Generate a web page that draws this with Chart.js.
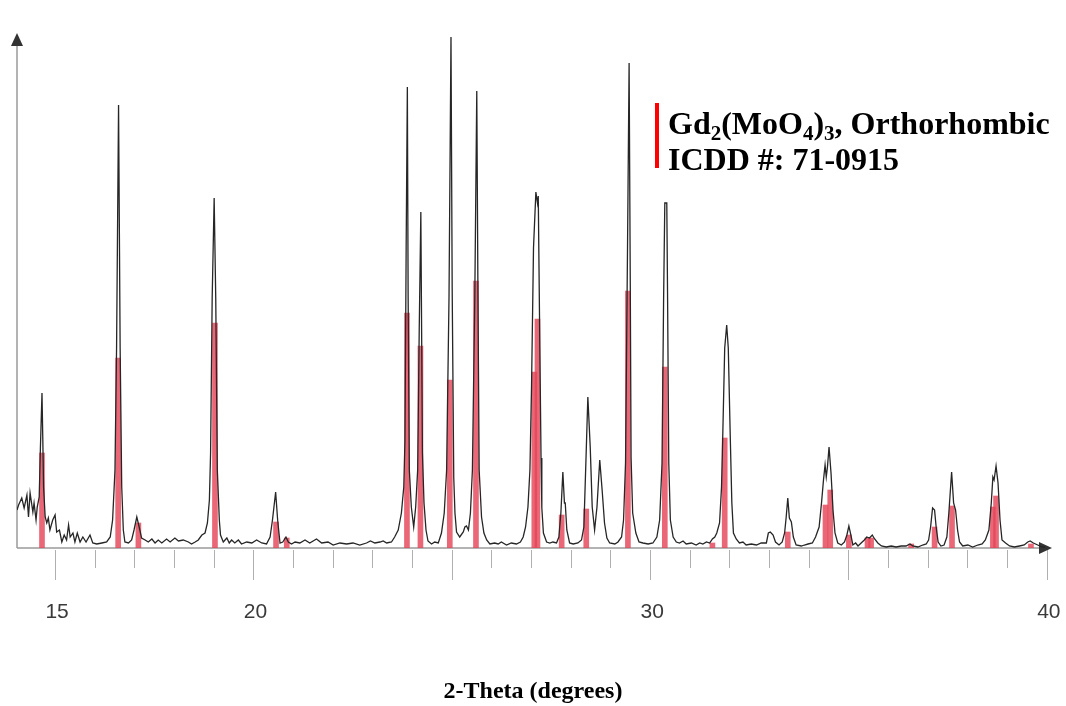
<!DOCTYPE html>
<html>
<head>
<meta charset="utf-8">
<script src="https://cdn.jsdelivr.net/npm/chart.js@4.4.1/dist/chart.umd.min.js"></script>
<style>
    html, body { margin: 0; padding: 0; background: #fff; }
    #wrap { width: 1066px; height: 706px; position: relative; }
</style>
</head>
<body>
<div id="wrap"><canvas id="xrdChart" width="1066" height="706"></canvas></div>
<script>
// Measured pattern: 2-theta (deg) and intensity (a.u.)
const twoTheta = [
    14.04, 14.08, 14.16, 14.22, 14.29, 14.33, 14.37, 14.44, 14.47, 14.52, 14.55, 14.60, 14.63, 14.67, 14.69, 14.71,
    14.75, 14.79, 14.83, 14.87, 14.94, 15.00, 15.04, 15.11, 15.17, 15.23, 15.29, 15.34, 15.38, 15.45, 15.50, 15.56,
    15.63, 15.70, 15.78, 15.88, 15.95, 16.05, 16.18, 16.30, 16.39, 16.45, 16.51, 16.55, 16.60, 16.64, 16.68, 16.72,
    16.76, 16.85, 16.93, 16.99, 17.06, 17.12, 17.18, 17.27, 17.35, 17.44, 17.52, 17.60, 17.69, 17.81, 17.90, 18.02,
    18.11, 18.23, 18.36, 18.44, 18.53, 18.61, 18.70, 18.78, 18.84, 18.89, 18.92, 18.96, 19.01, 19.05, 19.09, 19.14,
    19.17, 19.24, 19.33, 19.39, 19.45, 19.53, 19.62, 19.70, 19.83, 19.96, 20.08, 20.21, 20.33, 20.42, 20.48, 20.56,
    20.61, 20.67, 20.74, 20.82, 20.88, 20.96, 21.05, 21.17, 21.30, 21.42, 21.59, 21.72, 21.88, 22.01, 22.18, 22.35,
    22.51, 22.68, 22.85, 22.95, 23.06, 23.19, 23.27, 23.36, 23.48, 23.56, 23.65, 23.73, 23.79, 23.82, 23.85, 23.88,
    23.90, 23.93, 23.98, 24.04, 24.09, 24.14, 24.18, 24.22, 24.26, 24.30, 24.35, 24.40, 24.49, 24.57, 24.66, 24.74,
    24.81, 24.87, 24.93, 24.98, 25.01, 25.05, 25.08, 25.12, 25.20, 25.29, 25.33, 25.37, 25.42, 25.47, 25.52, 25.58,
    25.63, 25.66, 25.69, 25.75, 25.81, 25.88, 25.96, 26.08, 26.17, 26.25, 26.38, 26.50, 26.63, 26.73, 26.80, 26.86,
    26.92, 26.97, 27.01, 27.06, 27.12, 27.16, 27.18, 27.22, 27.25, 27.27, 27.31, 27.39, 27.47, 27.55, 27.64, 27.70,
    27.75, 27.80, 27.84, 27.86, 27.90, 27.97, 28.06, 28.18, 28.27, 28.33, 28.38, 28.43, 28.49, 28.54, 28.60, 28.66,
    28.73, 28.79, 28.85, 28.91, 28.98, 29.11, 29.19, 29.28, 29.33, 29.38, 29.43, 29.47, 29.50, 29.52, 29.56, 29.64,
    29.72, 29.82, 29.95, 30.07, 30.17, 30.24, 30.30, 30.34, 30.37, 30.42, 30.44, 30.47, 30.51, 30.58, 30.66, 30.74,
    30.83, 30.91, 31.04, 31.16, 31.25, 31.33, 31.42, 31.50, 31.57, 31.63, 31.68, 31.75, 31.80, 31.83, 31.88, 31.93,
    31.97, 32.02, 32.06, 32.10, 32.17, 32.25, 32.34, 32.42, 32.55, 32.68, 32.80, 32.93, 32.98, 33.03, 33.10, 33.16,
    33.25, 33.33, 33.39, 33.43, 33.47, 33.51, 33.56, 33.61, 33.68, 33.81, 33.89, 33.98, 34.09, 34.17, 34.26, 34.32,
    34.37, 34.41, 34.44, 34.47, 34.51, 34.56, 34.61, 34.66, 34.73, 34.82, 34.90, 34.96, 35.01, 35.06, 35.11, 35.18,
    35.24, 35.32, 35.40, 35.46, 35.53, 35.60, 35.66, 35.74, 35.83, 35.95, 36.08, 36.20, 36.33, 36.45, 36.55, 36.62,
    36.75, 36.87, 36.96, 37.02, 37.07, 37.12, 37.17, 37.21, 37.26, 37.33, 37.41, 37.48, 37.53, 37.60, 37.65, 37.70,
    37.75, 37.80, 37.88, 38.01, 38.13, 38.26, 38.37, 38.45, 38.54, 38.60, 38.64, 38.67, 38.72, 38.77, 38.82, 38.87,
    38.96, 39.06, 39.18, 39.31, 39.43, 39.52, 39.58, 39.66, 39.77, 39.88, 39.96
];
const intensity = [
    38, 43, 50, 40, 53, 31, 55, 36, 45, 28, 41, 51, 100, 155, 110, 61,
    31, 25, 30, 18, 28, 33, 16, 18, 6, 13, 8, 23, 11, 15, 6, 15,
    6, 11, 6, 13, 5, 4, 5, 6, 11, 28, 78, 200, 443, 200, 61, 18,
    6, 5, 8, 18, 31, 21, 10, 8, 6, 9, 5, 8, 5, 9, 6, 10,
    7, 8, 6, 4, 6, 8, 13, 15, 25, 48, 95, 250, 350, 250, 78, 28,
    13, 6, 10, 5, 8, 5, 8, 4, 6, 5, 8, 5, 4, 11, 28, 56,
    28, 5, 6, 11, 6, 4, 6, 5, 8, 5, 9, 5, 6, 3, 5, 4,
    5, 3, 5, 7, 5, 6, 7, 5, 6, 11, 18, 35, 61, 108, 300, 461,
    250, 78, 41, 21, 41, 78, 220, 336, 95, 45, 18, 7, 4, 6, 5, 15,
    35, 78, 250, 511, 260, 70, 35, 16, 11, 16, 21, 22, 18, 35, 78, 250,
    457, 250, 78, 31, 15, 8, 4, 5, 4, 6, 3, 5, 4, 6, 11, 21,
    41, 78, 160, 300, 356, 345, 352, 200, 90, 40, 15, 6, 5, 6, 5, 11,
    35, 76, 45, 45, 18, 5, 4, 5, 8, 21, 85, 151, 101, 41, 18, 41,
    88, 58, 25, 10, 5, 4, 6, 11, 28, 85, 300, 485, 260, 90, 35, 15,
    6, 5, 4, 5, 11, 28, 85, 250, 345, 345, 250, 85, 28, 11, 6, 5,
    7, 4, 5, 3, 5, 4, 6, 5, 9, 11, 15, 25, 61, 111, 200, 223,
    200, 111, 45, 15, 9, 5, 6, 3, 4, 3, 5, 5, 15, 16, 13, 6,
    3, 6, 15, 31, 50, 30, 26, 11, 3, 2, 3, 4, 5, 11, 21, 45,
    68, 83, 71, 81, 101, 75, 38, 15, 5, 3, 6, 13, 22, 13, 3, 5,
    2, 5, 8, 11, 10, 13, 9, 5, 2, 1, 2, 1, 2, 2, 4, 2,
    1, 3, 4, 8, 21, 40, 38, 21, 6, 2, 3, 11, 35, 76, 45, 38,
    18, 6, 2, 3, 1, 3, 4, 8, 18, 45, 71, 68, 82, 65, 28, 8,
    5, 2, 1, 2, 3, 6, 7, 5, 3, 1, 1
];

// Reference lines, ICDD 71-0915
const refPositions = [
    14.67, 16.59, 17.10, 19.03, 20.57, 20.84, 23.87, 24.21, 24.95, 25.61,
    27.08, 27.16, 27.77, 28.39, 29.44, 30.37, 31.57, 31.88, 33.47, 34.42,
    34.54, 35.01, 35.48, 35.57, 36.58, 37.17, 37.61, 38.64, 38.72, 39.60
];
const refIntensities = [
    95, 190, 25, 225, 26, 10, 235, 202, 168, 267,
    176, 229, 33, 39, 257, 181, 5, 110, 16, 43,
    58, 13, 10, 10, 4, 21, 42, 41, 52, 4
];

const tickLabels = [15, 20, 30, 40];
const axisTitle = '2-Theta (degrees)';

// Canvas text helpers
const TextDrawer = {
    // draws runs of [text, isSubscript] left to right
    drawRuns(ctx, runs, x, y, size) {
        let cx = x;
        runs.forEach(([text, sub]) => {
            const s = sub ? Math.round(size * 0.66) : size;
            ctx.font = `bold ${s}px "Liberation Serif", "Times New Roman", serif`;
            ctx.fillText(text, cx, sub ? y + size * 0.2 : y);
            cx += ctx.measureText(text).width;
        });
    }
};

const axesPlugin = {
    id: 'arrowAxes',
    beforeDatasetsDraw(chart) {
        const { ctx, chartArea: area, scales } = chart;
        const xs = scales.x;
        ctx.save();
        ctx.strokeStyle = '#9a9a9a';
        ctx.lineWidth = 1.5;
        ctx.beginPath();
        ctx.moveTo(area.left, area.bottom);
        ctx.lineTo(area.left, area.top + 8);
        ctx.moveTo(area.left, area.bottom);
        ctx.lineTo(area.right - 8, area.bottom);
        ctx.stroke();

        // tick marks, every degree, longer every five
        ctx.lineWidth = 1;
        ctx.strokeStyle = '#b0b0b0';
        for (let v = 15; v <= 40; v++) {
            const px = Math.round(xs.getPixelForValue(v)) + 0.5;
            const len = v % 5 === 0 ? 32 : 20;
            ctx.beginPath();
            ctx.moveTo(px, area.bottom + 2);
            ctx.lineTo(px, area.bottom + len);
            ctx.stroke();
        }

        // arrow heads
        ctx.fillStyle = '#333';
        ctx.beginPath();
        ctx.moveTo(area.left, area.top - 2);
        ctx.lineTo(area.left - 6, area.top + 11);
        ctx.lineTo(area.left + 6, area.top + 11);
        ctx.closePath();
        ctx.fill();
        ctx.beginPath();
        ctx.moveTo(area.right + 2, area.bottom);
        ctx.lineTo(area.right - 11, area.bottom - 6);
        ctx.lineTo(area.right - 11, area.bottom + 6);
        ctx.closePath();
        ctx.fill();
        ctx.restore();
    },
    afterDraw(chart) {
        const { ctx, chartArea: area, scales } = chart;
        const xs = scales.x;
        ctx.save();

        // tick labels
        ctx.fillStyle = '#3a3a3a';
        ctx.font = '21px "Liberation Sans", Arial, sans-serif';
        ctx.textAlign = 'center';
        ctx.textBaseline = 'alphabetic';
        tickLabels.forEach(v => {
            ctx.fillText(String(v), xs.getPixelForValue(v) + 2, area.bottom + 70);
        });

        // axis title
        ctx.fillStyle = '#000';
        ctx.font = 'bold 24px "Liberation Serif", "Times New Roman", serif';
        ctx.fillText(axisTitle, 533, 698);

        // legend: red marker + phase name
        ctx.fillStyle = '#ff0000';
        ctx.fillRect(655, 103, 4, 65);
        ctx.fillStyle = '#000';
        ctx.textAlign = 'left';
        TextDrawer.drawRuns(ctx, [
            ['Gd', false], ['2', true], ['(MoO', false], ['4', true], [')', false], ['3', true],
            [', Orthorhombic', false]
        ], 668, 134, 32);
        TextDrawer.drawRuns(ctx, [['ICDD #: 71-0915', false]], 668, 170, 32);
        ctx.restore();
    }
};

const ChartManager = {
    xrdChart: null,

    buildPoints(xs, ys) {
        return xs.map((x, i) => ({ x, y: ys[i] }));
    },

    initialize() {
        const ctx = document.getElementById('xrdChart').getContext('2d');
        this.xrdChart = new Chart(ctx, {
            type: 'bar',
            data: {
                datasets: [{
                    type: 'line',
                    label: 'Measured',
                    data: this.buildPoints(twoTheta, intensity),
                    borderColor: '#262626',
                    borderWidth: 1.3,
                    pointRadius: 0,
                    tension: 0,
                    order: 0
                }, {
                    type: 'bar',
                    label: 'Gd2(MoO4)3',
                    data: this.buildPoints(refPositions, refIntensities),
                    backgroundColor: 'rgba(228, 70, 88, 0.82)',
                    barThickness: 5,
                    order: 1
                }]
            },
            options: {
                responsive: false,
                animation: false,
                devicePixelRatio: 1,
                layout: { padding: { left: 17, right: 16, top: 35, bottom: 158 } },
                scales: {
                    x: { type: 'linear', min: 14.04, max: 40.08, offset: false, display: false },
                    y: { min: 0, max: 513, display: false }
                },
                plugins: {
                    legend: { display: false },
                    tooltip: { enabled: false }
                }
            },
            plugins: [axesPlugin]
        });
    }
};

document.addEventListener('DOMContentLoaded', () => {
    ChartManager.initialize();
});
</script>
</body>
</html>
